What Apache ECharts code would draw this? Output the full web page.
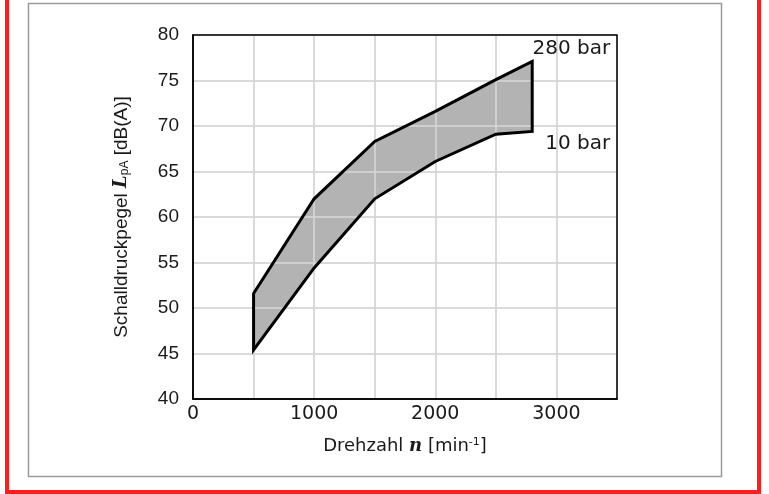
<!DOCTYPE html>
<html>
<head>
<meta charset="utf-8">
<script src="https://cdn.jsdelivr.net/npm/echarts@6/dist/echarts.min.js"></script>
<style>
  html, body { margin: 0; padding: 0; background: #fff; }
  #chart { width: 769px; height: 494px; }
</style>
</head>
<body>
<div id="chart"></div>
<script>
// Speed values (min^-1) where the noise band is defined
const speeds = [500, 1000, 1500, 2000, 2500, 2800];
// Sound pressure level at 280 bar (upper edge of the band)
const level280 = [51.6, 62.0, 68.3, 71.6, 75.1, 77.1];
// Sound pressure level at 10 bar (lower edge of the band)
const level10 = [45.4, 54.4, 62.0, 66.1, 69.1, 69.4];
// Pressure labels at the right end of the band
const pressureLabels = ['280 bar', '10 bar'];
// Axis ranges and tick steps
const xRange = [0, 3500, 500];
const yRange = [40, 80, 5];

const labelFont = '"Liberation Sans", Arial, sans-serif';
const titleFont = '"DejaVu Sans", "Noto Sans", sans-serif';

// Closed outline: upper edge left to right, then lower edge right to left
function bandPoints(api) {
  const pts = [];
  for (let i = 0; i < speeds.length; i++) pts.push(api.coord([speeds[i], level280[i]]));
  for (let i = speeds.length - 1; i >= 0; i--) pts.push(api.coord([speeds[i], level10[i]]));
  return pts;
}

const chart = echarts.init(document.getElementById('chart'), null, { renderer: 'canvas' });

chart.setOption({
  animation: false,
  backgroundColor: '#fff',
  grid: {
    left: 193, top: 35, width: 424, height: 364,
    show: false
  },
  xAxis: {
    type: 'value', min: xRange[0], max: xRange[1], interval: xRange[2], z: 3,
    axisLine: { show: true, lineStyle: { color: '#000', width: 1.5 } },
    axisTick: { show: false },
    splitLine: { show: true, lineStyle: { color: 'rgba(212,212,212,0.86)', width: 2 } },
    axisLabel: {
      color: '#1a1a1a', fontFamily: titleFont, fontSize: 19, margin: 6,
      formatter: v => (v % 1000 === 0 ? String(v) : '')
    },
    name: '{t|Drehzahl }{n|n}{t| [min}{s|-1}{t|]}',
    nameLocation: 'middle', nameGap: 38,
    nameTextStyle: {
      rich: {
        t: { fontFamily: titleFont, fontSize: 18, color: '#1a1a1a' },
        n: { fontFamily: '"DejaVu Serif", serif', fontStyle: 'italic', fontWeight: 'bold', fontSize: 18, color: '#1a1a1a' },
        s: { fontFamily: titleFont, fontSize: 11, color: '#1a1a1a', verticalAlign: 'top', padding: [0, 0, 8, 0] }
      }
    }
  },
  yAxis: {
    type: 'value', min: yRange[0], max: yRange[1], interval: yRange[2], z: 3,
    axisLine: { show: true, lineStyle: { color: '#000', width: 1.5 } },
    axisTick: { show: false },
    splitLine: { show: true, lineStyle: { color: 'rgba(212,212,212,0.86)', width: 2 } },
    axisLabel: { color: '#1a1a1a', fontFamily: labelFont, fontSize: 19, margin: 14 },
    name: '{t|Schalldruckpegel }{L|L}{s|pA}{t| [dB(A)]}',
    nameLocation: 'middle', nameGap: 62, nameRotate: 90,
    nameTextStyle: {
      rich: {
        t: { fontFamily: labelFont, fontSize: 19, color: '#1a1a1a' },
        L: { fontFamily: '"DejaVu Serif", serif', fontStyle: 'italic', fontWeight: 'bold', fontSize: 18, color: '#1a1a1a' },
        s: { fontFamily: labelFont, fontSize: 12, color: '#1a1a1a', verticalAlign: 'bottom', padding: [6, 0, 0, 0] }
      }
    }
  },
  graphic: [
    // outer red frame (open at the top edge)
    { type: 'rect', z: 100, silent: true,
      shape: { x: 7, y: -10, width: 752, height: 502 },
      style: { fill: 'none', stroke: '#ff1d1d', lineWidth: 4 } },
    // inner grey frame
    { type: 'rect', z: 100, silent: true,
      shape: { x: 28.5, y: 3.5, width: 693, height: 473 },
      style: { fill: 'none', stroke: '#9a9a9a', lineWidth: 1.5 } }
  ],
  series: [
    {
      // grey fill of the noise band, under the grid lines
      type: 'custom', z: 1, data: [0], silent: true,
      renderItem: (params, api) => ({
        type: 'polygon',
        shape: { points: bandPoints(api) },
        style: { fill: '#b3b3b3', stroke: 'none' }
      })
    },
    {
      // black outline, plot frame and pressure labels, above the grid lines
      type: 'custom', z: 5, data: [0], silent: true,
      renderItem: (params, api) => {
        const n = speeds.length - 1;
        const top = api.coord([speeds[n], level280[n]]);
        const bot = api.coord([speeds[n], level10[n]]);
        const tl = api.coord([xRange[0], yRange[1]]);
        const br = api.coord([xRange[1], yRange[0]]);
        const txt = { fill: '#1a1a1a', fontFamily: titleFont, fontSize: 20, align: 'right', verticalAlign: 'middle' };
        return {
          type: 'group',
          children: [
            { type: 'rect', shape: { x: tl[0], y: tl[1], width: br[0] - tl[0], height: br[1] - tl[1] },
              style: { fill: 'none', stroke: '#000', lineWidth: 1.5 } },
            { type: 'polygon', shape: { points: bandPoints(api) },
              style: { fill: 'none', stroke: '#000', lineWidth: 3, lineJoin: 'miter' } },
            { type: 'text', x: top[0] + 78, y: top[1] - 13,
              style: Object.assign({ text: pressureLabels[0] }, txt) },
            { type: 'text', x: bot[0] + 78, y: bot[1] + 12,
              style: Object.assign({ text: pressureLabels[1] }, txt) }
          ]
        };
      }
    }
  ]
});
</script>
</body>
</html>
